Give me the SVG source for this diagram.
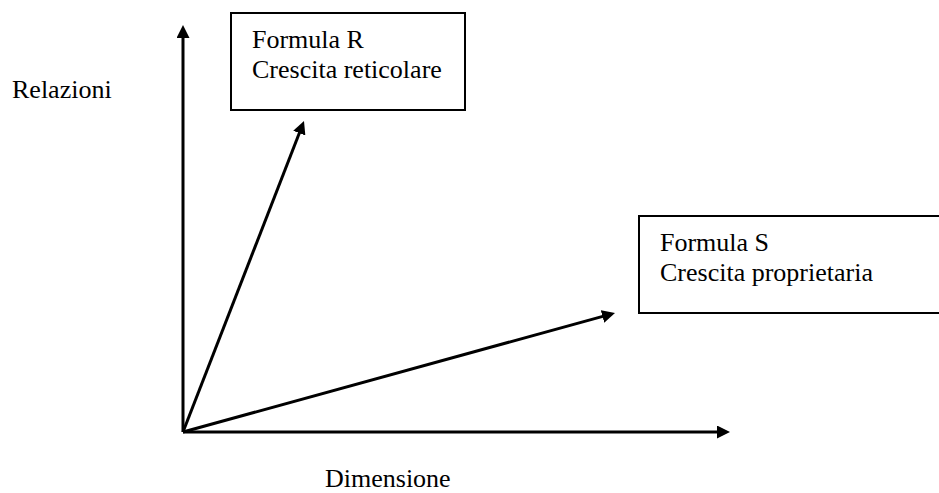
<svg xmlns="http://www.w3.org/2000/svg" width="939" height="493" viewBox="0 0 939 493">
<defs>
<style>
.t{font-family:"Liberation Serif","Times New Roman",serif;font-size:26px;fill:#000}
.box{fill:#fff;stroke:#000;stroke-width:2}
.ln{stroke:#000;stroke-width:3;fill:none;marker-end:url(#ah)}
</style>
<marker id="ah" markerUnits="userSpaceOnUse" viewBox="0 0 13 13" refX="5" refY="6.5" markerWidth="13" markerHeight="13" orient="auto">
<path d="M0,0 L13,6.5 L0,13 z" fill="#000"/>
</marker>
</defs>
<rect width="939" height="493" fill="#fff"/>
<g id="connectors">
<line class="ln" x1="183" y1="432" x2="183" y2="33"/>
<line class="ln" x1="183" y1="432" x2="722" y2="432"/>
<line class="ln" x1="183" y1="432" x2="301.1" y2="128.5"/>
<line class="ln" x1="183" y1="432" x2="607.3" y2="315.1"/>
</g>
<g id="formulaR">
<rect class="box" x="231" y="13" width="234" height="97"/>
<text class="t" x="252" y="48">Formula R</text>
<text class="t" x="252" y="78">Crescita reticolare</text>
</g>
<g id="formulaS">
<rect class="box" x="639" y="216" width="310" height="97"/>
<text class="t" x="660" y="251">Formula S</text>
<text class="t" x="660" y="281">Crescita proprietaria</text>
</g>
<g id="axisY">
<text class="t" x="12" y="98">Relazioni</text>
</g>
<g id="axisX">
<text class="t" x="325" y="487">Dimensione</text>
</g>
</svg>
